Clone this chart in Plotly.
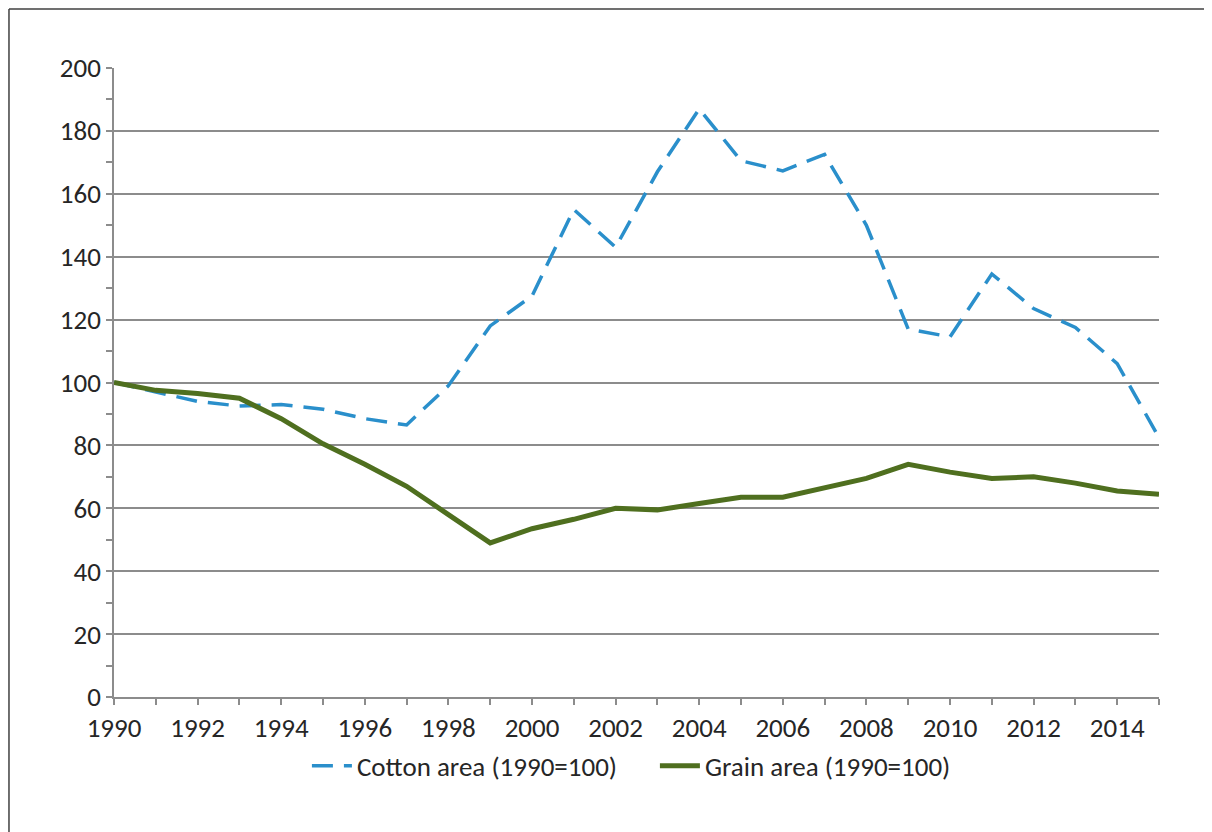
import plotly.graph_objects as go

years = list(range(1990, 2016))
cotton = [100, 97, 94, 92.5, 93, 91.5, 88.5, 86.5, 99, 118, 127.5, 155, 143, 167,
          187, 170.5, 167.3, 172.5, 150, 117, 114.5, 134.5, 123.5, 117.5, 106, 82.5]
grain = [100, 97.5, 96.5, 95, 88.5, 80.5, 74, 67, 58, 49, 53.5, 56.5, 60, 59.5,
         61.5, 63.5, 63.5, 66.5, 69.5, 74, 71.5, 69.5, 70, 68, 65.5, 64.5]

FONT = "Calibri, Carlito, 'Open Sans', sans-serif"
TXT = "#262626"
GRID = "#8c8c8c"
BORDER = "#404040"

fig = go.Figure()
fig.add_trace(go.Scatter(x=years, y=cotton, mode="lines", name="Cotton area (1990=100)",
                         line=dict(color="#2A8FCB", width=3.5, dash="21px,11px")))
fig.add_trace(go.Scatter(x=years, y=grain, mode="lines", name="Grain area (1990=100)",
                         line=dict(color="#4F6F1F", width=5)))

fig.update_layout(
    width=1204, height=824,
    margin=dict(l=106, r=53, t=60, b=135),
    paper_bgcolor="white", plot_bgcolor="white",
    font=dict(family=FONT, size=27, color=TXT),
    showlegend=True,
    legend=dict(orientation="h", x=0.1846, y=-0.11, xanchor="left", yanchor="middle",
                font=dict(family=FONT, size=27, color=TXT), itemwidth=40,
                entrywidth=293, entrywidthmode="pixels"),
    xaxis=dict(range=[1990, 2015], tickmode="linear", tick0=1990, dtick=2,
               ticks="outside", ticklen=6, tickcolor=GRID, tickwidth=1.5,
               showline=True, linecolor=GRID, linewidth=1.5, showgrid=False,
               zeroline=False,
               minor=dict(dtick=1, ticks="outside", ticklen=6, tickcolor=GRID, tickwidth=1.5,
                          showgrid=False)),
    yaxis=dict(range=[0, 200], tickmode="linear", tick0=0, dtick=20,
               ticks="outside", ticklen=6, tickcolor=GRID, tickwidth=1.5,
               showline=True, linecolor=GRID, linewidth=1.5,
               showgrid=True, gridcolor=GRID, gridwidth=1.5, zeroline=False,
               minor=dict(dtick=10, ticks="outside", ticklen=6, tickcolor=GRID, tickwidth=1.5,
                          showgrid=False)),
    shapes=[
        dict(type="line", xref="paper", yref="paper", x0=-0.1005, x1=-0.1005, y0=-1.0, y1=1.0938,
             line=dict(color=BORDER, width=1.5), layer="above"),
        dict(type="line", xref="paper", yref="paper", x0=-0.1005, x1=2.0, y0=1.0938, y1=1.0938,
             line=dict(color=BORDER, width=1.5), layer="above"),
    ],
)

fig.write_html("out.html")
